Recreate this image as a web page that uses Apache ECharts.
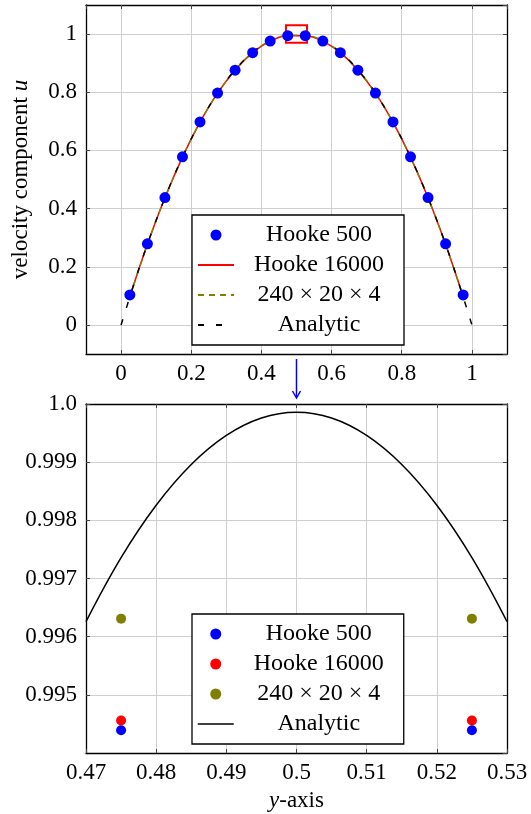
<!DOCTYPE html>
<html>
<head>
<meta charset="utf-8">
<script src="https://cdn.jsdelivr.net/npm/echarts@6/dist/echarts.min.js"></script>
<style>
  html, body { margin: 0; padding: 0; background: #fff; }
  #chart { width: 531px; height: 814px; }
</style>
</head>
<body>
<div id="chart"></div>
<script>
// top panel: whole channel profile
const cellX = [0.025, 0.075, 0.125, 0.175, 0.225, 0.275, 0.325, 0.375, 0.425, 0.475,
  0.525, 0.575, 0.625, 0.675, 0.725, 0.775, 0.825, 0.875, 0.925, 0.975]
const hooke500 = [0.103, 0.279, 0.438, 0.578, 0.698, 0.797, 0.876, 0.936, 0.976, 0.9944,
  0.9944, 0.976, 0.936, 0.876, 0.797, 0.698, 0.578, 0.438, 0.279, 0.103]
const hooke16000 = [0.098, 0.277, 0.437, 0.577, 0.697, 0.797, 0.876, 0.936, 0.976, 0.9946,
  0.9946, 0.976, 0.936, 0.876, 0.797, 0.697, 0.577, 0.437, 0.277, 0.098]
const mesh240 = [0.097, 0.277, 0.437, 0.577, 0.697, 0.797, 0.877, 0.937, 0.977, 0.9963,
  0.9963, 0.977, 0.937, 0.877, 0.797, 0.697, 0.577, 0.437, 0.277, 0.097]
const analyticX = [0, 0.05, 0.1, 0.15, 0.2, 0.25, 0.3, 0.35, 0.4, 0.45, 0.5,
  0.55, 0.6, 0.65, 0.7, 0.75, 0.8, 0.85, 0.9, 0.95, 1]
const analyticU = [0, 0.19, 0.36, 0.51, 0.64, 0.75, 0.84, 0.91, 0.96, 0.99, 0.9999,
  0.99, 0.96, 0.91, 0.84, 0.75, 0.64, 0.51, 0.36, 0.19, 0]

// bottom panel: zoom around the centre line
const zoomX = [0.475, 0.525]
const zoomHooke500 = [0.99439, 0.99439]
const zoomHooke16000 = [0.99456, 0.99456]
const zoomMesh240 = [0.99631, 0.99631]
const zoomAnalyticX = [0.47, 0.475, 0.48, 0.485, 0.49, 0.495, 0.5,
  0.505, 0.51, 0.515, 0.52, 0.525, 0.53]
const zoomAnalyticU = [0.99626, 0.99736, 0.99826, 0.99896, 0.99946, 0.99976, 0.99986,
  0.99976, 0.99946, 0.99896, 0.99826, 0.99736, 0.99626]

const names = ['Hooke 500', 'Hooke 16000', '240 × 20 × 4', 'Analytic']

const FONT = 'Liberation Serif'
const FS = 23
const LFS = 24
const BLUE = '#0000ff'
const RED = '#ff0000'
const OLIVE = '#808000'

const zip = (xs, ys) => xs.map((x, i) => [x, ys[i]])

const label = (fmt, margin) => ({
  fontFamily: FONT,
  fontSize: FS,
  color: '#000',
  margin: margin,
  formatter: fmt,
  showMinLabel: false,
  showMaxLabel: false
})

const tick = { show: true, inside: true, length: 4, lineStyle: { color: '#444', width: 1 } }
const line = { show: true, onZero: false, lineStyle: { color: '#000', width: 1.3 } }
const split = { show: true, showMinLine: false, showMaxLine: false, lineStyle: { color: '#cfcfcf', width: 1 } }

// main axis plus a twin on the opposite side for the frame and ticks
function axisPair(gridIndex, base, main, twinPos) {
  return [
    Object.assign({ type: 'value', gridIndex, axisLine: line, axisTick: tick, splitLine: split }, base, main),
    Object.assign({ type: 'value', gridIndex, position: twinPos, axisLine: line, axisTick: tick,
      axisLabel: { show: false }, splitLine: { show: false } }, base)
  ]
}

const tick1 = v => String(+v.toFixed(2))
const tickU = v => Math.abs(v - 1) < 1e-9 ? '1.0' : v.toFixed(3)

const legendText = {
  fontFamily: FONT,
  fontSize: LFS,
  color: '#000',
  rich: { c: { fontFamily: FONT, fontSize: LFS, width: 160, align: 'center', lineHeight: 23 } }
}
const noDot = { opacity: 0 }

const chart = echarts.init(document.getElementById('chart'), null, { renderer: 'canvas' })

chart.setOption({
  animation: false,
  backgroundColor: '#fff',
  grid: [
    { left: 86, top: 5, width: 421, height: 349 },
    { left: 86, top: 404, width: 421, height: 349 }
  ],
  xAxis: [
    ...axisPair(0, { min: -0.1, max: 1.1, splitNumber: 6 }, { position: 'bottom', axisLabel: label(tick1, 8) }, 'top'),
    ...axisPair(1, { min: 0.47, max: 0.53, interval: 0.01 }, {
      position: 'bottom',
      axisLabel: Object.assign(label(tick1, 8), { showMinLabel: true, showMaxLabel: true }),
      name: '{i|y}{n|-axis}',
      nameLocation: 'middle',
      nameGap: 36,
      nameTextStyle: {
        rich: {
          i: { fontFamily: FONT, fontSize: FS, fontStyle: 'italic', color: '#000' },
          n: { fontFamily: FONT, fontSize: FS, color: '#000' }
        }
      }
    }, 'top')
  ],
  yAxis: [
    ...axisPair(0, { min: -0.1, max: 1.1, splitNumber: 6 }, {
      position: 'left',
      axisLabel: label(tick1, 9),
      name: '{n|velocity component }{i|u}',
      nameLocation: 'middle',
      nameGap: 54,
      nameTextStyle: {
        rich: {
          i: { fontFamily: FONT, fontSize: FS, fontStyle: 'italic', color: '#000' },
          n: { fontFamily: FONT, fontSize: FS, color: '#000' }
        }
      }
    }, 'right'),
    ...axisPair(1, { min: 0.994, max: 1.0, interval: 0.001 }, {
      position: 'left',
      axisLabel: Object.assign(label(tickU, 9), { showMaxLabel: true })
    }, 'right')
  ],
  legend: [
    {
      left: 192, top: 215, orient: 'vertical',
      itemWidth: 36, itemHeight: 11, itemGap: 6, padding: [8, 5],
      borderColor: '#000', borderWidth: 1.3, borderRadius: 0, backgroundColor: '#fff',
      selectedMode: false,
      formatter: n => '{c|' + n + '}',
      textStyle: legendText,
      data: [
        { name: names[0], icon: 'circle', itemStyle: { color: BLUE, opacity: 1 } },
        { name: names[1], itemStyle: noDot },
        { name: names[2], itemStyle: noDot },
        { name: names[3], itemStyle: noDot }
      ]
    },
    {
      left: 192, top: 614, orient: 'vertical',
      itemWidth: 36, itemHeight: 11, itemGap: 6, padding: [8, 5],
      borderColor: '#000', borderWidth: 1.3, borderRadius: 0, backgroundColor: '#fff',
      selectedMode: false,
      formatter: n => '{c|' + n + '}',
      textStyle: legendText,
      data: [
        { name: names[0], icon: 'circle', itemStyle: { color: BLUE, opacity: 1 } },
        { name: names[1], icon: 'circle', itemStyle: { color: RED, opacity: 1 } },
        { name: names[2], icon: 'circle', itemStyle: { color: OLIVE, opacity: 1 } },
        { name: names[3], itemStyle: noDot, lineStyle: { type: 'solid', width: 1.5, color: '#000' } }
      ]
    }
  ],
  series: [
    // top panel
    {
      name: names[0], type: 'scatter', xAxisIndex: 0, yAxisIndex: 0,
      data: zip(cellX, hooke500), symbol: 'circle', symbolSize: 11,
      itemStyle: { color: BLUE, opacity: 1 }, z: 5
    },
    {
      name: names[1], type: 'line', xAxisIndex: 0, yAxisIndex: 0,
      data: zip(cellX, hooke16000), symbol: 'none', smooth: 0.3,
      lineStyle: { color: RED, width: 1.5 }, itemStyle: { color: RED }, z: 2,
      markArea: {
        silent: true,
        itemStyle: { color: 'rgba(0,0,0,0)', borderColor: RED, borderWidth: 2 },
        data: [[{ coord: [0.47, 0.97] }, { coord: [0.53, 1.03] }]]
      }
    },
    {
      name: names[2], type: 'line', xAxisIndex: 0, yAxisIndex: 0,
      data: zip(cellX, mesh240), symbol: 'none', smooth: 0.3,
      lineStyle: { color: OLIVE, width: 1.5, type: [6, 5] }, itemStyle: { color: OLIVE }, z: 3
    },
    {
      name: names[3], type: 'line', xAxisIndex: 0, yAxisIndex: 0,
      data: zip(analyticX, analyticU), symbol: 'none', smooth: 0.3,
      lineStyle: { color: '#000', width: 1.5, type: [6, 12] }, itemStyle: { color: '#000' }, z: 4
    },
    // bottom panel
    {
      name: names[0], type: 'scatter', xAxisIndex: 2, yAxisIndex: 2,
      data: zip(zoomX, zoomHooke500), symbolSize: 10, itemStyle: { color: BLUE, opacity: 1 }, z: 5
    },
    {
      name: names[1], type: 'scatter', xAxisIndex: 2, yAxisIndex: 2,
      data: zip(zoomX, zoomHooke16000), symbolSize: 10, itemStyle: { color: RED, opacity: 1 }, z: 4
    },
    {
      name: names[2], type: 'scatter', xAxisIndex: 2, yAxisIndex: 2,
      data: zip(zoomX, zoomMesh240), symbolSize: 10, itemStyle: { color: OLIVE, opacity: 1 }, z: 4
    },
    {
      name: names[3], type: 'line', xAxisIndex: 2, yAxisIndex: 2,
      data: zip(zoomAnalyticX, zoomAnalyticU), symbol: 'none', smooth: 0.4,
      lineStyle: { color: '#000', width: 1.5 }, itemStyle: { color: '#000' }, z: 3
    }
  ]
})

// blue arrow from the red box down to the zoomed panel
const ax = chart.convertToPixel({ xAxisIndex: 0 }, 0.5)
chart.setOption({
  graphic: [
    { type: 'line', shape: { x1: ax, y1: 359, x2: ax, y2: 397 }, style: { stroke: BLUE, lineWidth: 1.5 } },
    { type: 'polyline', shape: { points: [[ax - 4, 391], [ax, 398], [ax + 4, 391]] }, style: { stroke: BLUE, lineWidth: 1.5, fill: null } }
  ]
})
</script>
</body>
</html>
